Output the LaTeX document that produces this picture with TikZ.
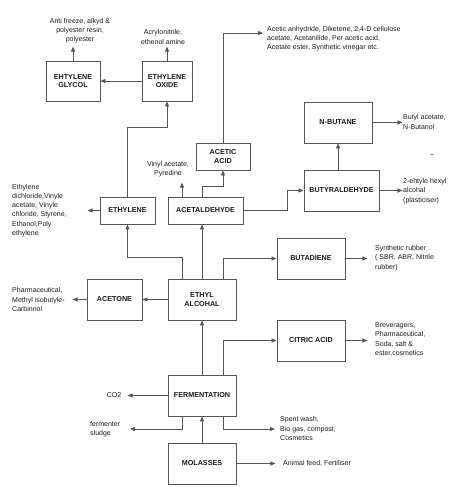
\documentclass[tikz,border=0pt]{standalone}
\usepackage{fontspec}
\setmainfont{Liberation Sans}
\usetikzlibrary{arrows.meta}
\definecolor{ln}{HTML}{555555}
\definecolor{tx}{HTML}{1A1A1A}
\begin{document}
\begin{tikzpicture}[x=1pt,y=-1pt,
  box/.style={draw=ln,line width=0.9pt,fill=white,align=center,font=\fontsize{7.2}{8.6}\selectfont\bfseries,text=tx,inner sep=1pt},
  lbl/.style={align=left,font=\fontsize{7.0}{9.2}\selectfont,text=tx,inner sep=0pt},
  clbl/.style={lbl,align=center},
  arr/.style={draw=ln,line width=0.85pt,-{Triangle[length=5pt,width=4pt]}},
  ln/.style={draw=ln,line width=0.85pt}]
\useasboundingbox (0,0) rectangle (453,487);
% boxes
\node[box,minimum width=54pt,minimum height=40pt] (glycol) at (73,81) {EHTYLENE\\GLYCOL};
\node[box,minimum width=50pt,minimum height=40pt] (oxide) at (167,81) {ETHYLENE\\OXIDE};
\node[box,minimum width=54pt,minimum height=27pt] (acetic) at (223,156.5) {ACETIC\\ACID};
\node[box,minimum width=68pt,minimum height=41pt] (butane) at (338,122.5) {N-BUTANE};
\node[box,minimum width=75pt,minimum height=41pt] (butyr) at (341.5,190.5) {BUTYRALDEHYDE};
\node[box,minimum width=55pt,minimum height=27pt] (ethylene) at (127.5,210.5) {ETHYLENE};
\node[box,minimum width=75pt,minimum height=27pt] (acetal) at (205.5,210.5) {ACETALDEHYDE};
\node[box,minimum width=68pt,minimum height=41pt] (butadiene) at (311,258.5) {BUTADIENE};
\node[box,minimum width=68pt,minimum height=41pt] (alc) at (202,299.5) {ETHYL\\ALCOHAL};
\node[box,minimum width=55pt,minimum height=41pt] (acetone) at (114.5,299.5) {ACETONE};
\node[box,minimum width=68pt,minimum height=41pt] (citric) at (311,340.5) {CITRIC ACID};
\node[box,minimum width=68pt,minimum height=41pt] (ferm) at (202,395.5) {FERMENTATION};
\node[box,minimum width=68pt,minimum height=41pt] (mol) at (202,463.5) {MOLASSES};
% labels
\node[clbl] (tglycol) at (80,30.5) {Anti freeze, alkyd \&\\polyester resin,\\polyester};
\node[clbl] (toxide) at (163,37) {Acrylonitrile,\\ethenol amine};
\node[lbl,anchor=west] (tacetic) at (267,38.5) {Acetic anhydride, Diketene, 2,4-D cellulose\\acetate, Acetanilide, Per acetic acid,\\Acetate ester, Synthetic vinegar etc.};
\node[lbl,anchor=west] (tbutane) at (403,122) {Butyl acetate,\\N-Butanol};
\node[lbl,anchor=west] (tbutyr) at (403,191) {2-ehtyle hexyl\\alcohal\\(plasticiser)};
\node[lbl] (tdash) at (432,155) {–};
\node[clbl] (tvinyl) at (168,169.5) {Vinyl acetate,\\Pyredine};
\node[lbl,anchor=west] (tethylene) at (12,210.5) {Ethylene\\dichloride,Vinyle\\acetate, Vinyle\\chloride, Styrene,\\Ethanol,Poly\\ethylene};
\node[lbl,anchor=west] (tbutadiene) at (375,258) {Synthetic rubber\\( SBR, ABR, Nitrile\\rubber)};
\node[lbl,anchor=west] (tacetone) at (12,299.5) {Pharmaceutical,\\Methyl isobutyle-\\Carbinnol};
\node[lbl,anchor=west] (tcitric) at (375,339.5) {Breveragers,\\Pharmaceutical,\\Soda, salt \&\\ester,cosmetics};
\node[clbl] (tco2) at (114,395.5) {CO2};
\node[lbl,anchor=west] (tsludge) at (90,429.5) {fermenter\\sludge};
\node[lbl,anchor=west] (tspent) at (280,428.5) {Spent wash,\\Bio gas, compost,\\Cosmetics};
\node[lbl,anchor=west] (tmol) at (283,463.5) {Animal feed, Fertiliser};
% coordinates for free ends
\coordinate (eacetic) at (263,33);
% connectors
\draw[arr] (oxide.west) -- (glycol.east);
\draw[arr] (glycol.north) -- ++(0,-14);
\draw[arr] (oxide.north) -- ++(0,-14);
\draw[arr] (ethylene.north) -- ++(0,-69) -| (oxide.south);
\draw[arr] (acetic.north) |- (eacetic);
\draw[arr] ([xshift=-3.5pt]acetal.north) -- ++(0,-10) -| (acetic.south);
\draw[arr] ([xshift=-23.5pt]acetal.north) -- ++(0,-14);
\draw[arr] (acetal.east) -- ++(44,0) |- (butyr.west);
\draw[arr] (butyr.north -| butane.south) -- (butane.south);
\draw[arr] (butane.east) -- ++(30,0);
\draw[arr] (butyr.east) -- ++(23,0);
\draw[arr] (ethylene.west) -- ++(-12,0);
\draw[arr] ([xshift=-20pt]alc.north) -- ++(0,-21) -| (ethylene.south);
\draw[arr] (alc.north) -- (alc.north |- acetal.south);
\draw[arr] ([xshift=21pt]alc.north) |- (butadiene.west);
\draw[arr] (butadiene.east) -- ++(22,0);
\draw[arr] (alc.west) -- (acetone.east);
\draw[arr] (acetone.west) -- ++(-14,0);
\draw[arr] (ferm.north) -- (alc.south);
\draw[arr] ([xshift=21pt]ferm.north) |- (citric.west);
\draw[arr] (citric.east) -- ++(22,0);
\draw[arr] (ferm.west) -- ++(-40,0);
\draw[arr] ([xshift=-20pt]ferm.south) -- ++(0,12.5) -- ++(-52,0);
\draw[arr] ([xshift=21pt]ferm.south) -- ++(0,12.5) -- ++(52,0);
\draw[arr] (mol.north) -- (ferm.south);
\draw[arr] (mol.east) -- ++(39,0);
\end{tikzpicture}
\end{document}
